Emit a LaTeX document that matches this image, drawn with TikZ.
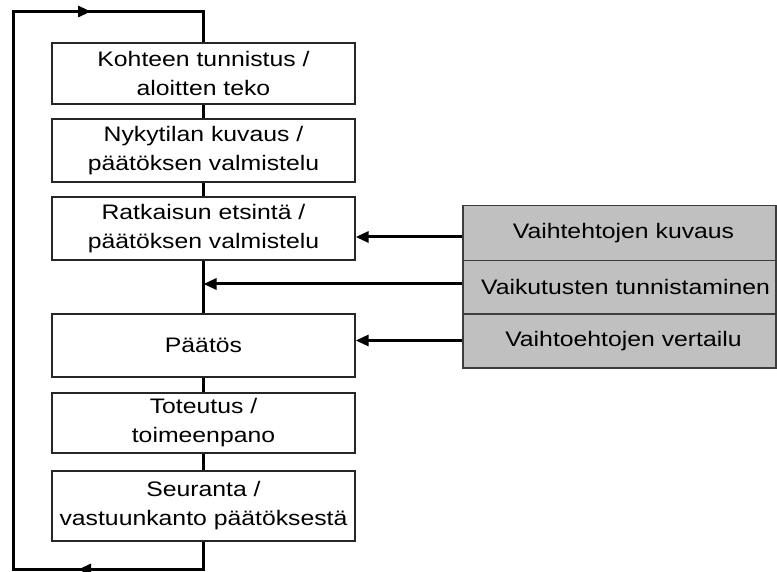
\documentclass[tikz,border=0pt]{standalone}
\usepackage{fontspec}
\setmainfont[FakeStretch=1.18]{Liberation Sans}
\usetikzlibrary{arrows.meta}
\definecolor{boxgray}{RGB}{192,192,192}
\definecolor{edgegray}{RGB}{60,60,60}
\begin{document}
\begin{tikzpicture}[x=1pt,y=-1pt,
  stepbox/.style={draw=black!85,line width=1.3pt,fill=white,minimum width=303pt,inner sep=0pt,align=center,font=\fontsize{21}{29}\selectfont},
  graybox/.style={draw=edgegray,line width=1.3pt,fill=boxgray,minimum width=313pt,inner sep=0pt,align=center,font=\fontsize{21}{29}\selectfont},
  link/.style={line width=3pt},
  arr/.style={line width=3pt,-{Triangle[length=13pt,width=11pt]}}]
\useasboundingbox (0,0) rectangle (777,572);

\node[stepbox,minimum height=61pt] (b1) at (203.5,73.5) {Kohteen tunnistus /\\aloitten teko};
\node[stepbox,minimum height=63pt] (b2) at (203.5,150.5) {Nykytilan kuvaus /\\päätöksen valmistelu};
\node[stepbox,minimum height=63pt] (b3) at (203.5,228.5) {Ratkaisun etsintä /\\päätöksen valmistelu};
\node[stepbox,minimum height=63pt] (b4) at (203.5,345.5) {Päätös};
\node[stepbox,minimum height=60pt] (b5) at (203.5,423) {Toteutus /\\toimeenpano};
\node[stepbox,minimum height=70pt] (b6) at (203.5,506) {Seuranta /\\vastuunkanto päätöksestä};

\node[graybox,minimum height=55pt] (g1) at (619.5,233.2) {\hspace*{8pt}Vaihtehtojen kuvaus};
\node[graybox,minimum height=53.3pt] (g2) at (619.5,287.4) {\hspace*{12pt}Vaikutusten tunnistaminen};
\node[graybox,minimum height=54pt] (g3) at (619.5,341) {\hspace*{8pt}Vaihtoehtojen vertailu};

\draw[link] (b1.south) -- (b2.north);
\draw[link] (b2.south) -- (b3.north);
\draw[link] (b3.south) -- (b4.north);
\draw[link] (b4.south) -- (b5.north);
\draw[link] (b5.south) -- (b6.north);

\coordinate (tl) at (13,11.5);
\coordinate (tr) at (203.5,11.5);
\coordinate (bl) at (13,569.5);
\coordinate (br) at (203.5,569.5);
\coordinate (ta) at (91,11.5);
\coordinate (ba) at (78,569.5);
\draw[link] (b6.south) -- (br) -- (bl) -- (tl) -- (tr) -- (b1.north);
\draw[arr] (tl) -- (ta);
\draw[arr] (br) -- (ba);

\coordinate (y1) at (0,237);
\coordinate (y2) at (0,284);
\coordinate (y3) at (0,340.5);
\draw[arr] (g1.west |- y1) -- (b3.east |- y1);
\draw[arr] (g2.west |- y2) -- (b3.south |- y2);
\draw[arr] (g3.west |- y3) -- (b4.east |- y3);
\end{tikzpicture}
\end{document}
